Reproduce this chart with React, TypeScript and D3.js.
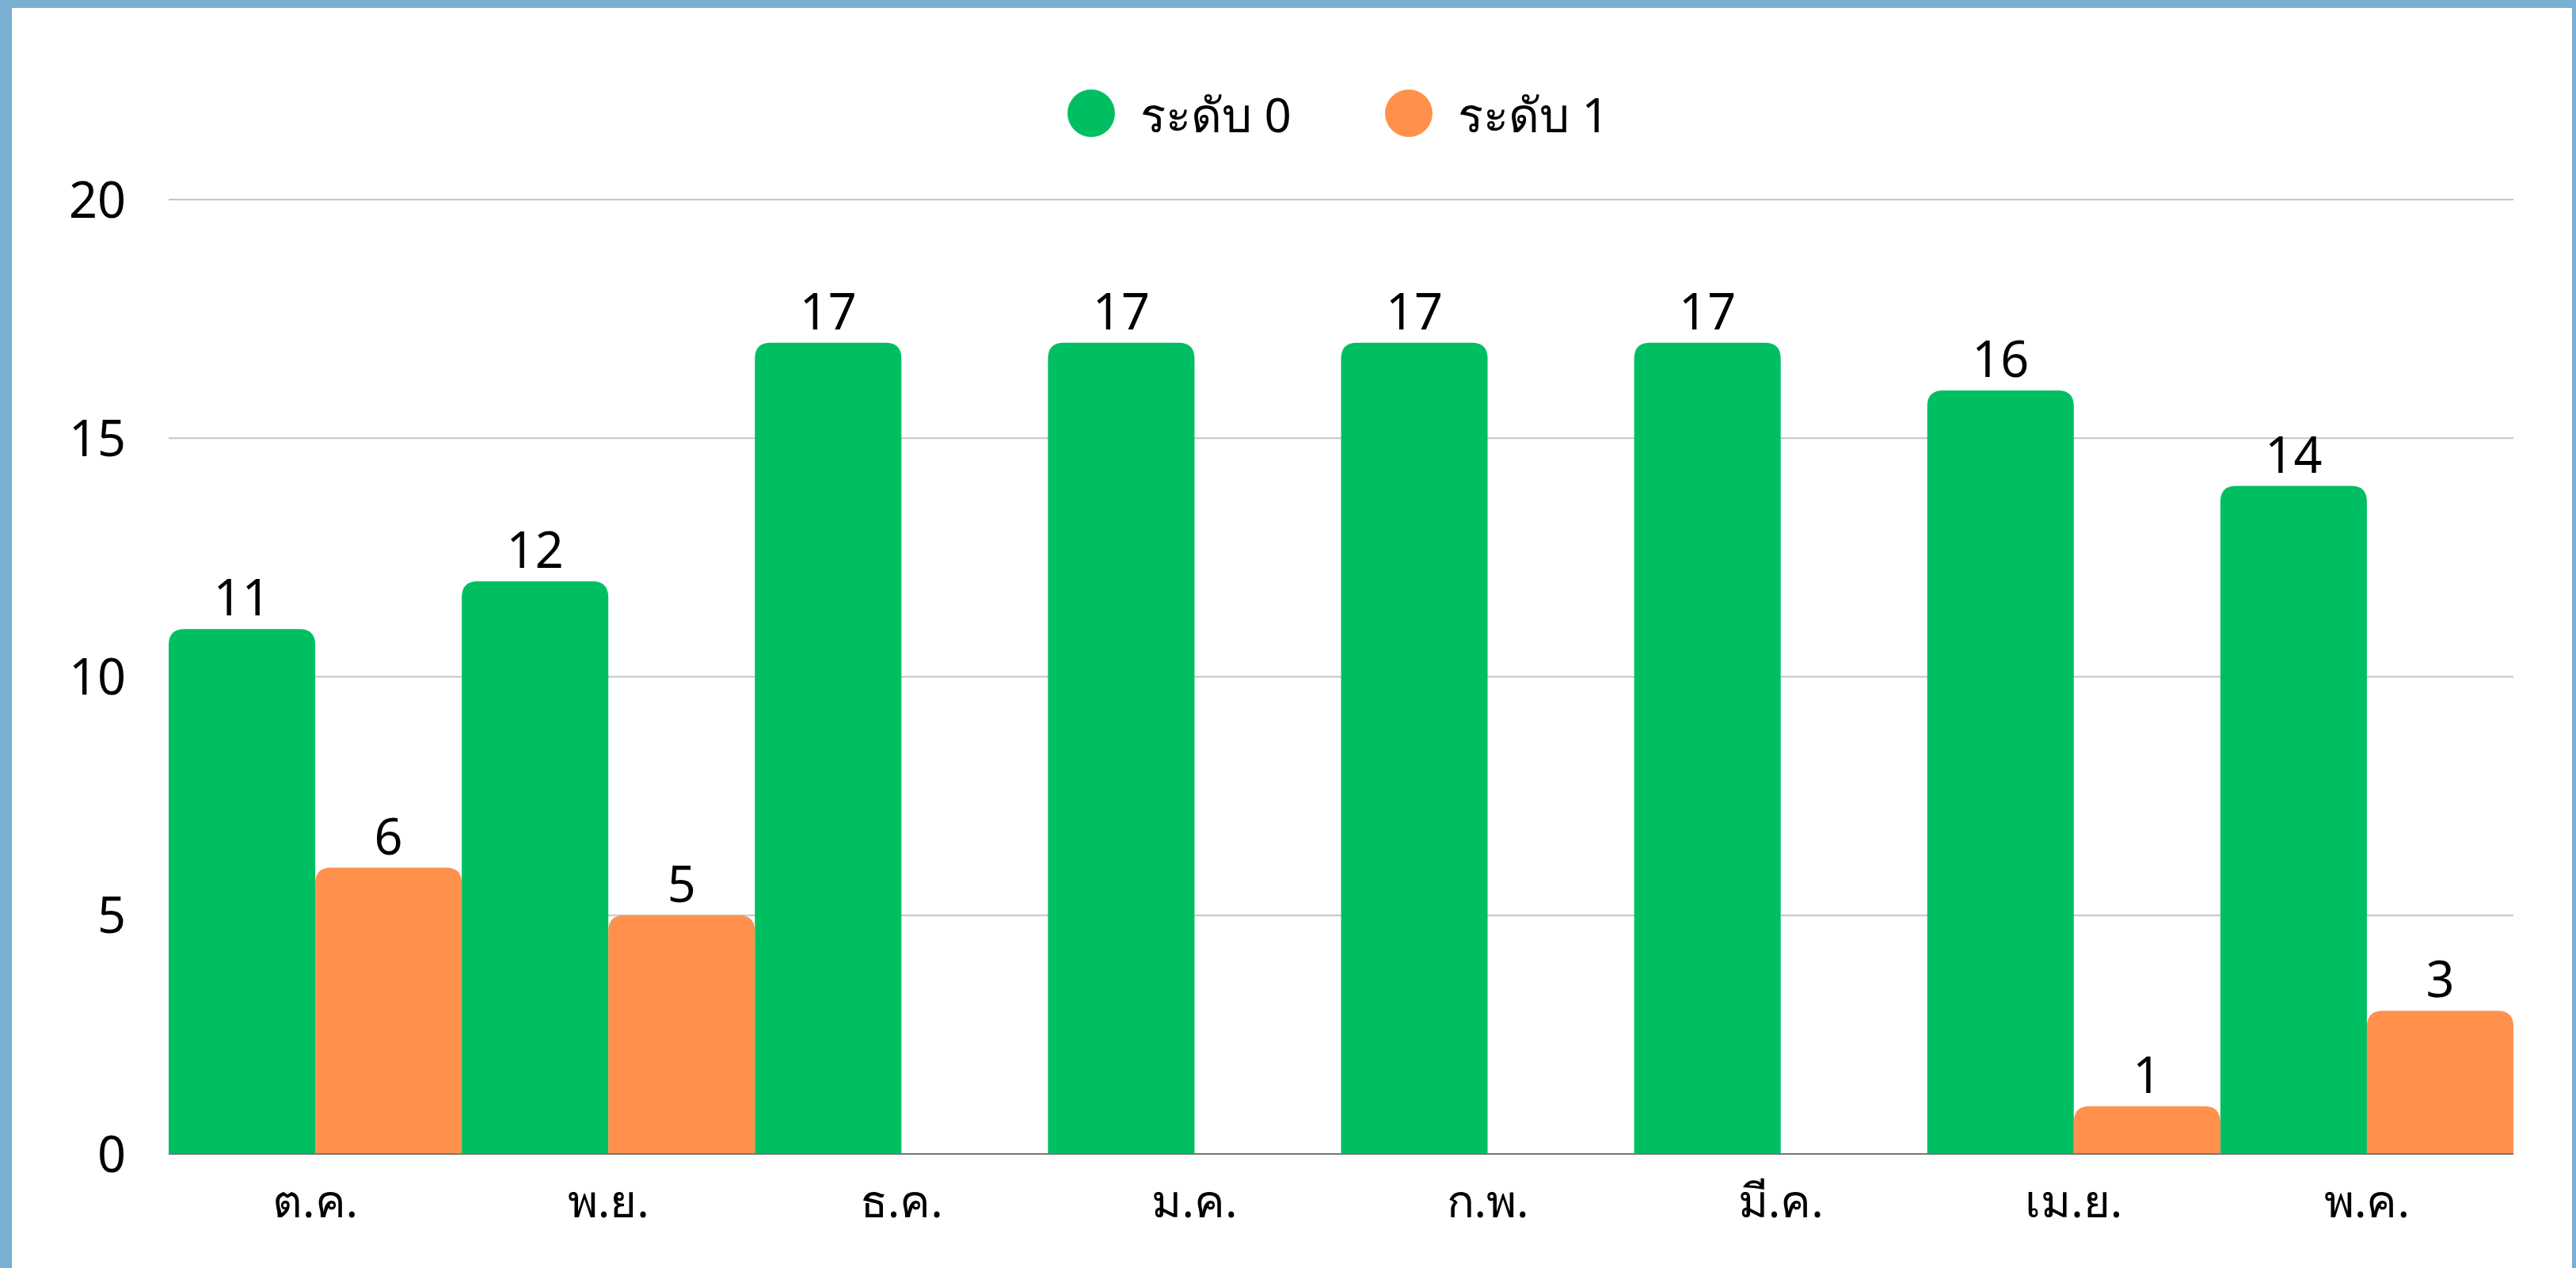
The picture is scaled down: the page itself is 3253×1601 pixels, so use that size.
import React, { useRef, useEffect } from "react";
import { select, scaleBand, scaleLinear } from "d3";

const months = ["ต.ค.", "พ.ย.", "ธ.ค.", "ม.ค.", "ก.พ.", "มี.ค.", "เม.ย.", "พ.ค."];
const level0 = [11, 12, 17, 17, 17, 17, 16, 14];
const level1 = [6, 5, 0, 0, 0, 0, 1, 3];
const seriesNames = ["ระดับ 0", "ระดับ 1"];
const seriesColors = ["#00BF63", "#FF914D"];
const yTicks = [0, 5, 10, 15, 20];

const WIDTH = 3253;
const HEIGHT = 1601;
const FONT = "'Noto Sans', 'DejaVu Sans', sans-serif";

// path for a bar with only the top corners rounded
function topRoundedBar(x: number, y: number, w: number, h: number, r: number) {
  const rr = Math.min(r, h, w / 2);
  if (h <= 0) return "";
  return `M${x},${y + h} L${x},${y + rr} Q${x},${y} ${x + rr},${y} L${x + w - rr},${y} Q${x + w},${y} ${x + w},${y + rr} L${x + w},${y + h} Z`;
}

function App() {
  const svgRef = useRef<SVGSVGElement>(null);

  useEffect(() => {
    const svg = select(svgRef.current);
    svg.selectAll("*").remove();

    const margin = { left: 213, right: 3174, top: 252, bottom: 1457 };

    const xScale = scaleBand<string>()
      .domain(months)
      .range([margin.left, margin.right])
      .padding(0);

    const xInner = scaleBand<string>()
      .domain(seriesNames)
      .range([0, xScale.bandwidth()])
      .padding(0);

    const yScale = scaleLinear().domain([0, 20]).range([margin.bottom, margin.top]);

    // frame
    svg.append("rect").attr("width", WIDTH).attr("height", HEIGHT).attr("fill", "#79AFD0");
    svg.append("rect").attr("x", 15).attr("y", 10).attr("width", 3248 - 15).attr("height", HEIGHT - 10).attr("fill", "#ffffff");

    // gridlines
    svg.selectAll(".grid")
      .data(yTicks.filter(t => t > 0))
      .join("line")
      .attr("class", "grid")
      .attr("x1", margin.left)
      .attr("x2", margin.right)
      .attr("y1", t => yScale(t))
      .attr("y2", t => yScale(t))
      .attr("stroke", "#c4c4c4")
      .attr("stroke-width", 2);

    // y tick labels
    svg.selectAll(".ytick")
      .data(yTicks)
      .join("text")
      .attr("class", "ytick")
      .attr("x", 159)
      .attr("y", t => yScale(t))
      .attr("dy", "0.36em")
      .attr("text-anchor", "end")
      .attr("font-family", FONT)
      .attr("font-size", 63)
      .attr("fill", "#000")
      .text(t => t);

    const seriesData = [level0, level1];

    seriesData.forEach((values, si) => {
      const g = svg.append("g");
      g.selectAll("path")
        .data(values)
        .join("path")
        .attr("d", (v, i) => {
          const x = (xScale(months[i]) ?? 0) + (xInner(seriesNames[si]) ?? 0);
          const y = yScale(v);
          return topRoundedBar(x, y, xInner.bandwidth(), yScale(0) - y, 20);
        })
        .attr("fill", seriesColors[si]);

      g.selectAll("text")
        .data(values.map((v, i) => ({ v, i })).filter(d => d.v > 0))
        .join("text")
        .attr("x", d => (xScale(months[d.i]) ?? 0) + (xInner(seriesNames[si]) ?? 0) + xInner.bandwidth() / 2)
        .attr("y", d => yScale(d.v) - 17)
        .attr("text-anchor", "middle")
        .attr("font-family", FONT)
        .attr("font-size", 63)
        .attr("fill", "#000")
        .text(d => d.v);
    });

    // baseline
    svg.append("line")
      .attr("x1", margin.left)
      .attr("x2", margin.right)
      .attr("y1", yScale(0))
      .attr("y2", yScale(0))
      .attr("stroke", "#777777")
      .attr("stroke-width", 2);

    // x labels
    svg.selectAll(".xlabel")
      .data(months)
      .join("text")
      .attr("class", "xlabel")
      .attr("x", m => (xScale(m) ?? 0) + xScale.bandwidth() / 2)
      .attr("y", 1537)
      .attr("text-anchor", "middle")
      .attr("font-family", FONT)
      .attr("font-size", 58)
      .attr("fill", "#000")
      .text(m => m);

    // legend
    const legendX = [1378, 1779];
    const legend = svg.selectAll(".legend")
      .data(seriesNames)
      .join("g")
      .attr("class", "legend")
      .attr("transform", (d, i) => `translate(${legendX[i]},143)`);
    legend.append("circle").attr("r", 30).attr("fill", (d, i) => seriesColors[i]);
    legend.append("text")
      .attr("x", 62)
      .attr("y", 24)
      .attr("font-family", FONT)
      .attr("font-size", 60)
      .attr("fill", "#000")
      .text(d => d);
  }, []);

  return (
    <div style={{ position: "absolute", left: 0, top: 0 }}>
      <svg ref={svgRef} width={WIDTH} height={HEIGHT} style={{ display: "block" }}></svg>
    </div>
  );
}

export default App;
